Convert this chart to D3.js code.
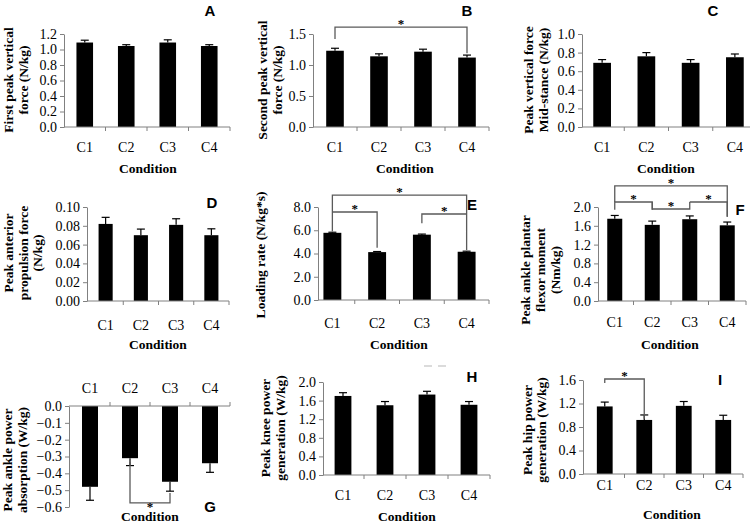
<!DOCTYPE html>
<html><head><meta charset="utf-8">
<script src="https://cdn.jsdelivr.net/npm/d3@7"></script>
<style>
body{margin:0;background:#fff;}
svg{display:block;}
.star{opacity:0.99;}
</style></head>
<body>
<svg id="chart" width="750" height="524"></svg>
<script>
// ---- data ----
const categories = ["C1", "C2", "C3", "C4"];

const valuesA = [1.09, 1.045, 1.09, 1.045];
const errorsA = [0.03, 0.017, 0.035, 0.017];
const ticksA = [0, 0.2, 0.4, 0.6, 0.8, 1.0, 1.2];

const valuesB = [1.23, 1.14, 1.215, 1.12];
const errorsB = [0.04, 0.04, 0.04, 0.04];
const ticksB = [0, 0.5, 1.0, 1.5];

const valuesC = [0.69, 0.76, 0.69, 0.75];
const errorsC = [0.035, 0.04, 0.035, 0.035];
const ticksC = [0, 0.2, 0.4, 0.6, 0.8, 1.0];

const valuesD = [0.082, 0.070, 0.081, 0.070];
const errorsD = [0.007, 0.0065, 0.0065, 0.0068];
const ticksD = [0, 0.02, 0.04, 0.06, 0.08, 0.10];

const valuesE = [5.78, 4.12, 5.62, 4.15];
const errorsE = [0.05, 0.05, 0.05, 0.05];
const ticksE = [0, 2, 4, 6, 8];

const valuesF = [1.75, 1.62, 1.74, 1.61];
const errorsF = [0.07, 0.08, 0.07, 0.07];
const ticksF = [0, 0.4, 0.8, 1.2, 1.6, 2.0];

const valuesG = [-0.48, -0.31, -0.45, -0.34];
const errorsG = [0.08, 0.044, 0.056, 0.054];
const ticksG = [-0.6, -0.5, -0.4, -0.3, -0.2, -0.1, 0.0];

const valuesH = [1.70, 1.50, 1.73, 1.51];
const errorsH = [0.07, 0.08, 0.07, 0.07];
const ticksH = [0, 0.4, 0.8, 1.2, 1.6, 2.0];

const valuesI = [1.15, 0.92, 1.16, 0.92];
const errorsI = [0.074, 0.085, 0.074, 0.08];
const ticksI = [0, 0.4, 0.8, 1.2, 1.6];

// significance brackets: categories and levels in data units
const bracketsB = [{from: "C1", to: "C4", level: 1.61, fromEnd: 1.42, toEnd: 1.19}];
const bracketsE = [
  {from: "C1", to: "C4", level: 9.03, fromEnd: 5.9, toEnd: 4.3},
  {from: "C1", to: "C2", level: 7.57, fromEnd: 7.57, toEnd: 4.5},
  {from: "C3", to: "C4", level: 7.4, fromEnd: 6.6, toEnd: 7.4}
];
const bracketsF = [
  {from: "C1", to: "C4", level: 2.45, fromEnd: 2.106, toEnd: 1.79},
  {from: "C1", to: "C2", level: 2.106, fromEnd: 1.94, toEnd: 1.94},
  {from: "C2", to: "C3", level: 1.957, fromEnd: 2.106, toEnd: 2.106},
  {from: "C3", to: "C4", level: 2.106, fromEnd: 2.106, toEnd: 1.79}
];
const bracketsG = [{from: "C2", to: "C3", level: -0.576, fromEnd: -0.333, toEnd: -0.517, below: true}];
const bracketsI = [{from: "C1", to: "C2", level: 1.617, fromEnd: 1.55, toEnd: 0.94}];

// ---- layout ----
const panels = [
  {letter: "A", values: valuesA, errors: errorsA, ticks: ticksA, fmt: ".1f", domain: [0, 1.2],
   range: [64, 230], axisX: 64, yTop: 34, yBot: 127, labelPad: 15, condX: 148, condY: 173,
   title: ["First peak vertical", "force (N/kg)"], titleX: [8, 23], titleY: 80, letterX: 210, letterY: 16, brackets: []},
  {letter: "B", values: valuesB, errors: errorsB, ticks: ticksB, fmt: ".1f", domain: [0, 1.5],
   range: [313, 489], axisX: 313, yTop: 34, yBot: 127, labelPad: 15, condX: 405, condY: 173,
   title: ["Second peak vertical", "force (N/kg)"], titleX: [262, 277], titleY: 80, letterX: 467, letterY: 16, brackets: bracketsB},
  {letter: "C", values: valuesC, errors: errorsC, ticks: ticksC, fmt: ".1f", domain: [0, 1.0],
   range: [580, 757], axisX: 582, yTop: 34, yBot: 127, labelPad: 15, condX: 666, condY: 173,
   title: ["Peak vertical force", "Mid-stance (N/kg)"], titleX: [528, 543], titleY: 80, letterX: 713, letterY: 16, brackets: []},
  {letter: "D", values: valuesD, errors: errorsD, ticks: ticksD, fmt: ".2f", domain: [0, 0.10],
   range: [88, 229], axisX: 87, yTop: 207, yBot: 301, labelPad: 19, condX: 158, condY: 349,
   title: ["Peak anterior", "propulsion force", "(N/kg)"], titleX: [8, 23, 37], titleY: 253, letterX: 212, letterY: 208, brackets: []},
  {letter: "E", values: valuesE, errors: errorsE, ticks: ticksE, fmt: ".1f", domain: [0, 8],
   range: [310, 489], axisX: 318, yTop: 207, yBot: 300, labelPad: 18, condX: 399, condY: 349,
   title: ["Loading rate (N/kg*s)"], titleX: [260], titleY: 255, letterX: 472, letterY: 210, brackets: bracketsE},
  {letter: "F", values: valuesF, errors: errorsF, ticks: ticksF, fmt: ".1f", domain: [0, 2.0],
   range: [596, 746], axisX: 598, yTop: 207, yBot: 301, labelPad: 16, condX: 670, condY: 349,
   title: ["Peak ankle plantar", "flexor moment", "(Nm/kg)"], titleX: [525, 540, 555], titleY: 270, letterX: 740, letterY: 215, brackets: bracketsF},
  {letter: "G", values: valuesG, errors: errorsG, ticks: ticksG, fmt: ".1f", domain: [-0.6, 0],
   range: [70, 230], axisX: 69, yTop: 507, yBot: 406, labelPad: 13, condX: 150, condY: 521, top: true,
   title: ["Peak ankle power", "absorption (W/kg)"], titleX: [7, 22], titleY: 460, letterX: 210, letterY: 512, brackets: bracketsG},
  {letter: "H", values: valuesH, errors: errorsH, ticks: ticksH, fmt: ".1f", domain: [0, 2.0],
   range: [322, 490], axisX: 323, yTop: 382, yBot: 475, labelPad: 15, condX: 407, condY: 521,
   title: ["Peak knee power", "generation (W/kg)"], titleX: [265, 280], titleY: 428, letterX: 472, letterY: 382, brackets: []},
  {letter: "I", values: valuesI, errors: errorsI, ticks: ticksI, fmt: ".1f", domain: [0, 1.6],
   range: [585, 743], axisX: 583, yTop: 380, yBot: 474, labelPad: 6, condX: 672, condY: 519,
   title: ["Peak hip power", "generation (W/kg)"], titleX: [527, 541], titleY: 430, letterX: 720, letterY: 385, brackets: bracketsI}
];

const svg = d3.select("#chart");
const SERIF = "'Liberation Serif', 'Times New Roman', serif";
const SANS = "'Liberation Sans', Arial, sans-serif";
const AXIS_COLOR = "#808080";
const BRACKET_COLOR = "#5a5a5a";

function drawPanel(p) {
  const g = svg.append("g");
  const x = d3.scaleBand().domain(categories).range(p.range).paddingInner(0.6).paddingOuter(0.3);
  const y = d3.scaleLinear().domain(p.domain).range(p.top ? [p.yTop, p.yBot] : [p.yBot, p.yTop]);
  const y0 = y(0);

  // bars
  g.selectAll("rect.bar").data(p.values).enter().append("rect")
    .attr("x", (d, i) => x(categories[i]))
    .attr("width", x.bandwidth())
    .attr("y", d => Math.min(y(d), y0))
    .attr("height", d => Math.abs(y(d) - y0))
    .attr("fill", "#000");

  // error bars (one-sided, away from zero)
  const cap = 4;
  p.values.forEach((v, i) => {
    const cx = x(categories[i]) + x.bandwidth() / 2;
    const end = v >= 0 ? v + p.errors[i] : v - p.errors[i];
    g.append("line").attr("x1", cx).attr("x2", cx).attr("y1", y(v)).attr("y2", y(end))
      .attr("stroke", "#000").attr("stroke-width", 1.2);
    g.append("line").attr("x1", cx - cap).attr("x2", cx + cap).attr("y1", y(end)).attr("y2", y(end))
      .attr("stroke", "#000").attr("stroke-width", 1.2);
  });

  // y axis
  const yAxis = g.append("g").attr("transform", `translate(${p.axisX},0)`)
    .call(d3.axisLeft(y).tickValues(p.ticks).tickFormat(d3.format(p.fmt)).tickSize(4).tickSizeOuter(0).tickPadding(3));
  yAxis.select(".domain").attr("stroke", AXIS_COLOR);
  yAxis.selectAll(".tick line").attr("stroke", AXIS_COLOR);
  yAxis.selectAll("text").attr("font-family", SERIF).attr("font-size", 14).attr("fill", "#000");

  // x axis line with boundary ticks
  g.append("line").attr("x1", p.axisX).attr("x2", p.range[1]).attr("y1", y0).attr("y2", y0)
    .attr("stroke", AXIS_COLOR).attr("stroke-width", 1);
  const tickDir = p.top ? -4 : 4;
  categories.forEach(c => {
    const bx = x(c) + x.bandwidth() / 2 + x.step() / 2;
    g.append("line").attr("x1", bx).attr("x2", bx).attr("y1", y0).attr("y2", y0 + tickDir)
      .attr("stroke", AXIS_COLOR);
  });

  // category labels
  const xAxis = g.append("g").attr("transform", `translate(0,${y0})`)
    .call((p.top ? d3.axisTop(x) : d3.axisBottom(x)).tickSize(0).tickPadding(p.labelPad));
  xAxis.select(".domain").remove();
  xAxis.selectAll("text").attr("font-family", SERIF).attr("font-size", 14).attr("fill", "#000");

  // x title
  g.append("text").attr("x", p.condX).attr("y", p.condY).attr("text-anchor", "middle")
    .attr("font-family", SERIF).attr("font-weight", "bold").attr("font-size", 13.5).attr("fill", "#000").text("Condition");

  // y title (rotated lines)
  p.title.forEach((t, i) => {
    g.append("text")
      .attr("transform", `translate(${p.titleX[i]},${p.titleY}) rotate(-90)`)
      .attr("text-anchor", "middle").attr("dy", "0.35em")
      .attr("font-family", SERIF).attr("font-weight", "bold").attr("font-size", 13.5).attr("fill", "#000").text(t);
  });

  // panel letter
  g.append("text").attr("x", p.letterX).attr("y", p.letterY).attr("text-anchor", "middle")
    .attr("font-family", SANS).attr("font-weight", "bold").attr("font-size", 15).attr("fill", "#000").text(p.letter);

  // brackets
  p.brackets.forEach(b => {
    const x1 = x(b.from) + x.bandwidth() / 2;
    const x2 = x(b.to) + x.bandwidth() / 2;
    g.append("path")
      .attr("d", `M${x1},${y(b.fromEnd)}V${y(b.level)}H${x2}V${y(b.toEnd)}`)
      .attr("fill", "none").attr("stroke", BRACKET_COLOR).attr("stroke-width", 1.3);
    g.append("text").attr("class", "star").attr("x", (x1 + x2) / 2).attr("y", y(b.level) + (b.below ? 8 : 1))
      .attr("text-anchor", "middle").attr("font-family", SERIF).attr("font-weight", "bold")
      .attr("font-size", 13).attr("fill", "#000").text("*");
  });
  return {x, y};
}

panels.forEach(drawPanel);

// faint artefact dashes near panel H
svg.append("line").attr("x1", 424).attr("x2", 451).attr("y1", 366).attr("y2", 366)
  .attr("stroke", "#d0d0d0").attr("stroke-width", 1.5).attr("stroke-dasharray", "8,6");
</script>
</body></html>
